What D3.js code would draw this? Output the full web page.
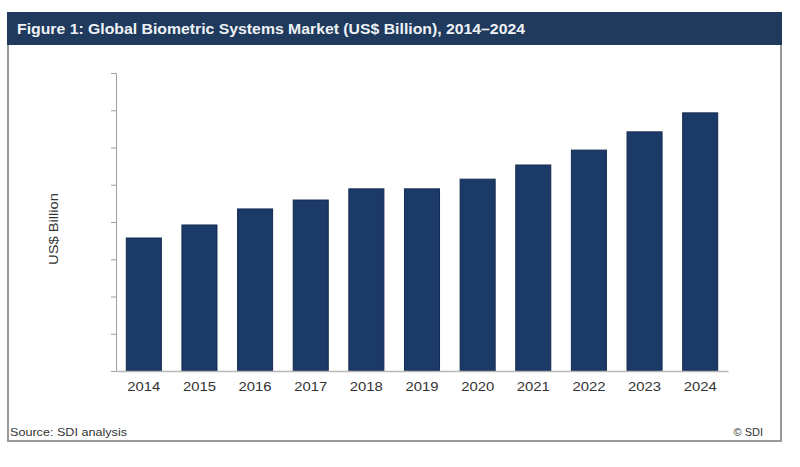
<!DOCTYPE html>
<html>
<head>
<meta charset="utf-8">
<script src="https://cdn.jsdelivr.net/npm/d3@7/dist/d3.min.js"></script>
<style>
  html, body { margin: 0; padding: 0; background: #fff; }
  svg { display: block; }
</style>
</head>
<body>
<svg id="chart" width="800" height="467"></svg>
<script>
const years = ["2014","2015","2016","2017","2018","2019","2020","2021","2022","2023","2024"];
const values = [3.57, 3.92, 4.35, 4.59, 4.89, 4.89, 5.15, 5.53, 5.93, 6.42, 6.93];
const yTicks = [0, 1, 2, 3, 4, 5, 6, 7, 8];
const titleText = "Figure 1: Global Biometric Systems Market (US$ Billion), 2014\u20132024";
const yLabel = "US$ Billion";
const sourceText = "Source: SDI analysis";
const copyText = "\u00a9 SDI";

const svg = d3.select("#chart");
const font = "'Liberation Sans', Arial, sans-serif";

// frame
svg.append("rect").attr("x", 8).attr("y", 13).attr("width", 773).attr("height", 428)
  .attr("fill", "#fff").attr("stroke", "#9a9a9a").attr("stroke-width", 2);
// header band
svg.append("rect").attr("x", 7).attr("y", 12).attr("width", 775).attr("height", 33)
  .attr("fill", "#1f3a5c");
svg.append("text").attr("x", 17).attr("y", 34)
  .attr("font-family", font).attr("font-size", 14).attr("font-weight", "bold")
  .attr("textLength", 508).attr("lengthAdjust", "spacingAndGlyphs")
  .attr("fill", "#eef2f7").text(titleText);

const margin = { left: 116, right: 728, top: 73, bottom: 371 };
const x = d3.scaleBand().domain(years).range([margin.left, margin.right]).paddingInner(0.37).paddingOuter(0.185);
const y = d3.scaleLinear().domain([0, 8]).range([margin.bottom, margin.top]);

// bars
svg.append("g").selectAll("rect").data(values).join("rect")
  .attr("x", (d, i) => x(years[i]))
  .attr("y", d => y(d))
  .attr("width", x.bandwidth())
  .attr("height", d => y(0) - y(d))
  .attr("fill", "#1b3a67")
  .attr("stroke", "#142c50").attr("stroke-width", 1);

// y axis
const yAxis = d3.axisLeft(y).tickValues(yTicks).tickSize(5).tickFormat("");
const gy = svg.append("g").attr("transform", `translate(${margin.left},0)`).call(yAxis);
gy.selectAll("path,line").attr("stroke", "#a0a0a0");

// x axis
const xAxis = d3.axisBottom(x).tickSize(0).tickPadding(11);
const gx = svg.append("g").attr("transform", `translate(0,${margin.bottom})`).call(xAxis);
gx.select("path").attr("stroke", "#b8b8b8").attr("stroke-width", 1.5);
gx.selectAll("text").attr("font-family", font).attr("font-size", 12.5).attr("fill", "#333")
  .attr("textLength", 33).attr("lengthAdjust", "spacingAndGlyphs");

// y label
svg.append("text")
  .attr("transform", "translate(58,229) rotate(-90)")
  .attr("text-anchor", "middle")
  .attr("font-family", font).attr("font-size", 12).attr("fill", "#333")
  .attr("textLength", 72).attr("lengthAdjust", "spacingAndGlyphs")
  .text(yLabel);

// footer
svg.append("text").attr("x", 10).attr("y", 436)
  .attr("font-family", font).attr("font-size", 11).attr("fill", "#333")
  .attr("textLength", 117).attr("lengthAdjust", "spacingAndGlyphs").text(sourceText);
svg.append("text").attr("x", 763).attr("y", 436).attr("text-anchor", "end")
  .attr("font-family", font).attr("font-size", 11).attr("fill", "#333").text(copyText);
</script>
</body>
</html>
